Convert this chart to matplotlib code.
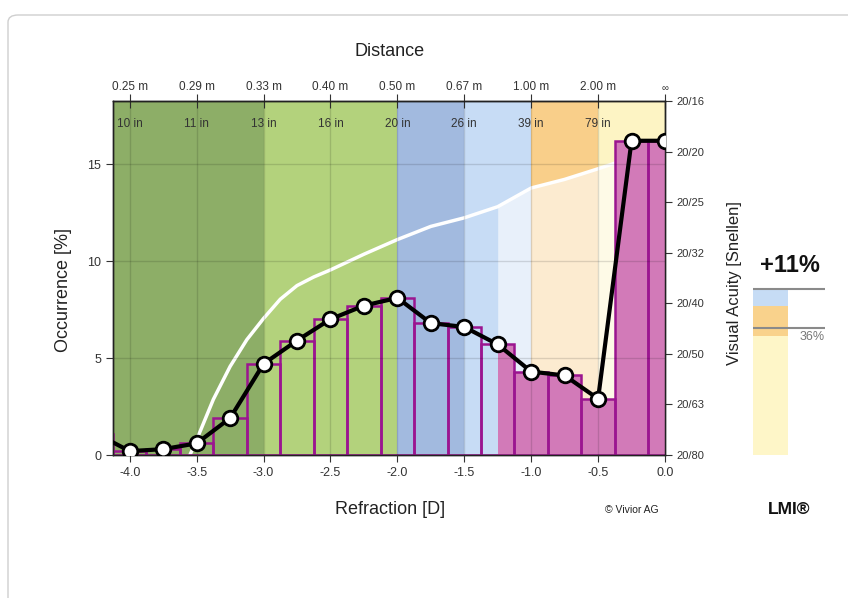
import numpy as np
import matplotlib.pyplot as plt
from matplotlib.patches import FancyBboxPatch

plt.rcParams['font.family'] = ['Liberation Sans', 'DejaVu Sans']

# histogram: refraction [D] vs occurrence [%]
refraction = [-4.25, -4.0, -3.75, -3.5, -3.25, -3.0, -2.75, -2.5, -2.25, -2.0,
              -1.75, -1.5, -1.25, -1.0, -0.75, -0.5, -0.25, 0.0]
occurrence = [1.1, 0.2, 0.3, 0.6, 1.9, 4.7, 5.9, 7.0, 7.7, 8.1,
              6.8, 6.6, 5.7, 4.3, 4.1, 2.9, 16.2, 16.2]
lmi_start = -1.25

# visual acuity curve (logMAR on the right axis)
va_refraction = [-3.55, -3.5, -3.375, -3.25, -3.125, -3.0, -2.875, -2.75, -2.625, -2.5, -2.25,
                 -2.0, -1.75, -1.5, -1.25, -1.0, -0.75, -0.5, -0.375]
va_logmar = [0.6, 0.57, 0.49, 0.425, 0.372, 0.33, 0.292, 0.265, 0.248, 0.234, 0.203,
             0.174, 0.148, 0.131, 0.109, 0.072, 0.055, 0.034, 0.023]

# distance zones
zone_from = [-4.5, -3.0, -2.0, -1.5, -1.0, -0.5]
zone_to = [-3.0, -2.0, -1.5, -1.0, -0.5, 0.0]
zone_colors = ['#8dae67', '#b3d27c', '#a2badf', '#c7dcf5', '#f9cf8a', '#fdf4c4']

dist_diopter = [-4.0, -3.5, -3.0, -2.5, -2.0, -1.5, -1.0, -0.5, 0.0]
dist_m = ['0.25 m', '0.29 m', '0.33 m', '0.40 m', '0.50 m', '0.67 m', '1.00 m', '2.00 m', '\u221e']
dist_in = ['10 in', '11 in', '13 in', '16 in', '20 in', '26 in', '39 in', '79 in']

snellen_logmar = [-0.1, 0.0, 0.1, 0.2, 0.3, 0.4, 0.5, 0.6]
snellen = ['20/16', '20/20', '20/25', '20/32', '20/40', '20/50', '20/63', '20/80']

# LMI side bar (percent)
lmi_segments = [33.5, 8.5, 5.0]
lmi_colors = ['#fef6c8', '#f9d28c', '#c6dcf5']
lmi_base = 36
lmi_gain = 11

W, H = 848, 598
fig = plt.figure(figsize=(W / 100, H / 100), dpi=100)
fig.patches.append(FancyBboxPatch((8 / W, -0.1), 1.1, 1 - 15 / H + 0.1,
                                  boxstyle='round,pad=0,rounding_size=0.012',
                                  transform=fig.transFigure, fc='none', ec='#cfcfcf', lw=1))

ax = fig.add_axes([113 / W, 1 - 455 / H, (665 - 113) / W, (455 - 101) / H])
ax2 = ax.twinx()
ax.set_zorder(ax2.get_zorder() + 1)
ax.patch.set_visible(False)

# background zones + acuity curve on the lower axes
for a, b, c in zip(zone_from, zone_to, zone_colors):
    ax2.axvspan(a, b, color=c, lw=0, zorder=0)
va_x = np.array(va_refraction)
va_y = np.array(va_logmar)
m = va_x >= lmi_start
ax2.fill_between(np.append(va_x[m], 0.0), np.append(va_y[m], va_y[m][-1]), 0.6,
                 color='white', alpha=0.6, lw=0, zorder=1)
ax2.plot(va_refraction, va_logmar, color='white', lw=2.5, zorder=2)
ax2.set_ylim(0.6, -0.1)
ax2.set_yticks(snellen_logmar, labels=snellen)
ax2.tick_params(axis='y', direction='out', length=5, labelsize=8, colors='#333')

# histogram on the upper axes
x = np.array(refraction)
y = np.array(occurrence)
sel = x >= lmi_start
ax.fill_between(x[sel], y[sel], step='mid', color='#d27ab8', lw=0, zorder=1)
ax.bar(refraction, occurrence, width=0.25, facecolor='none', edgecolor='#9b1590', lw=1.8, zorder=2)
ax.plot(refraction, occurrence, color='black', lw=3, marker='o', ms=10.5,
        mfc='white', mec='black', mew=2, zorder=4)

ax.set_xlim(-4.125, 0)
ax.set_ylim(0, 18.25)
xt = np.arange(-4.0, 0.01, 0.5)
ax.set_xticks(xt, labels=['%.1f' % v for v in xt])
ax.set_yticks([0, 5, 10, 15])
ax.tick_params(direction='out', length=5, labelsize=9, colors='#333')
ax.set_axisbelow(False)
ax.grid(True, color='black', alpha=0.13, lw=1)

sec = ax.secondary_xaxis('top')
sec.set_xticks(dist_diopter, labels=dist_m)
sec.tick_params(direction='inout', length=10, pad=1, labelsize=8.5, colors='#333')
sec.get_xticklabels()[-1].set_fontsize(7)
for d, lab in zip(dist_diopter, dist_in):
    ax.text(d, 0.935, lab, transform=ax.get_xaxis_transform(), ha='center', va='center',
            fontsize=8.5, color='#333', zorder=5)

for a in (ax, ax2):
    for s in a.spines.values():
        s.set_color('#222')
        s.set_linewidth(1)

fig.text(390 / W, 1 - 52 / H, 'Distance', ha='center', va='center', fontsize=13, color='#222')
fig.text(390 / W, 1 - 510 / H, 'Refraction [D]', ha='center', va='center', fontsize=13, color='#222')
fig.text(63 / W, 1 - 290 / H, 'Occurrence [%]', ha='center', va='center', rotation=90, fontsize=13, color='#222')
fig.text(735 / W, 1 - 283 / H, 'Visual Acuity [Snellen]', ha='center', va='center', rotation=90, fontsize=12, color='#222')
fig.text(632 / W, 1 - 510 / H, '\u00a9 Vivior AG', ha='center', va='center', fontsize=7.5, color='#222')
fig.text(789 / W, 1 - 509 / H, 'LMI\u00ae', ha='center', va='center', fontsize=12.5, fontweight='bold', color='#111')

# LMI side bar
sax = fig.add_axes([740 / W, 1 - 455 / H, 95 / W, 354 / H])
sax.set_xlim(740, 835)
sax.set_ylim(0, 100)
sax.axis('off')
bottom = 0
for h, c in zip(lmi_segments, lmi_colors):
    sax.bar(770.5, h, bottom=bottom, width=35, color=c, lw=0)
    bottom += h
sax.hlines([lmi_base, lmi_base + lmi_gain], 753, 825, color='#8a8a8a', lw=1.5)
sax.text(825, lmi_base - 1, '%d%%' % lmi_base, ha='right', va='top', fontsize=9, color='#777')
sax.text(790, lmi_base + lmi_gain + 6.5, '+%d%%' % lmi_gain, ha='center', va='center',
         fontsize=17, fontweight='bold', color='#111')

fig.savefig('out.png', dpi=100)
